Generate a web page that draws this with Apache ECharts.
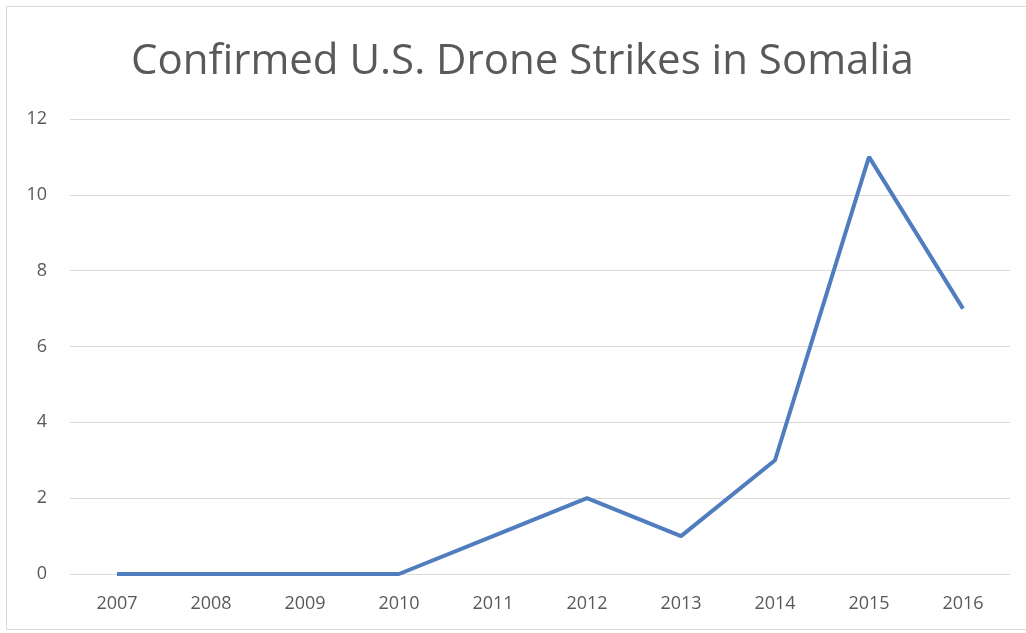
<!DOCTYPE html>
<html>
<head>
<meta charset="utf-8">
<script src="https://cdn.jsdelivr.net/npm/echarts@6/dist/echarts.min.js"></script>
<style>
  html, body { margin: 0; padding: 0; background: #fff; }
  #frame { position: absolute; left: 6px; top: 6px; width: 1022px; height: 624px; border: 1px solid #d9d9d9; box-sizing: border-box; }
  #chart { width: 1026px; height: 633px; }
</style>
</head>
<body>
<div id="frame"></div>
<div id="chart"></div>
<script>
// Confirmed U.S. drone strikes in Somalia, per year
const years = ['2007', '2008', '2009', '2010', '2011', '2012', '2013', '2014', '2015', '2016'];
const strikes = [0, 0, 0, 0, 1, 2, 1, 3, 11, 7];
const yTicks = { min: 0, max: 12, interval: 2 };

const chart = echarts.init(document.getElementById('chart'));
chart.setOption({
  backgroundColor: 'transparent',
  animation: false,
  title: {
    text: 'Confirmed U.S. Drone Strikes in Somalia',
    left: 126,
    top: 36,
    textStyle: { fontFamily: 'Open Sans', fontSize: 42, fontWeight: 'normal', color: '#595959' }
  },
  grid: { left: 70, right: 16, top: 119, bottom: 59 },
  xAxis: {
    type: 'category',
    data: years,
    boundaryGap: true,
    axisLine: { show: false },
    axisTick: { show: false },
    axisLabel: { color: '#595959', fontFamily: 'Open Sans', fontSize: 18, margin: 21 }
  },
  yAxis: {
    type: 'value',
    min: yTicks.min,
    max: yTicks.max,
    interval: yTicks.interval,
    axisLine: { show: false },
    axisTick: { show: false },
    axisLabel: { color: '#595959', fontFamily: 'Open Sans', fontSize: 18, margin: 23 },
    splitLine: { lineStyle: { color: '#d9d9d9', width: 1 } }
  },
  series: [{
    type: 'line',
    data: strikes,
    symbol: 'none',
    lineStyle: { color: '#4f7dbd', width: 4 }
  }]
});
</script>
</body>
</html>
